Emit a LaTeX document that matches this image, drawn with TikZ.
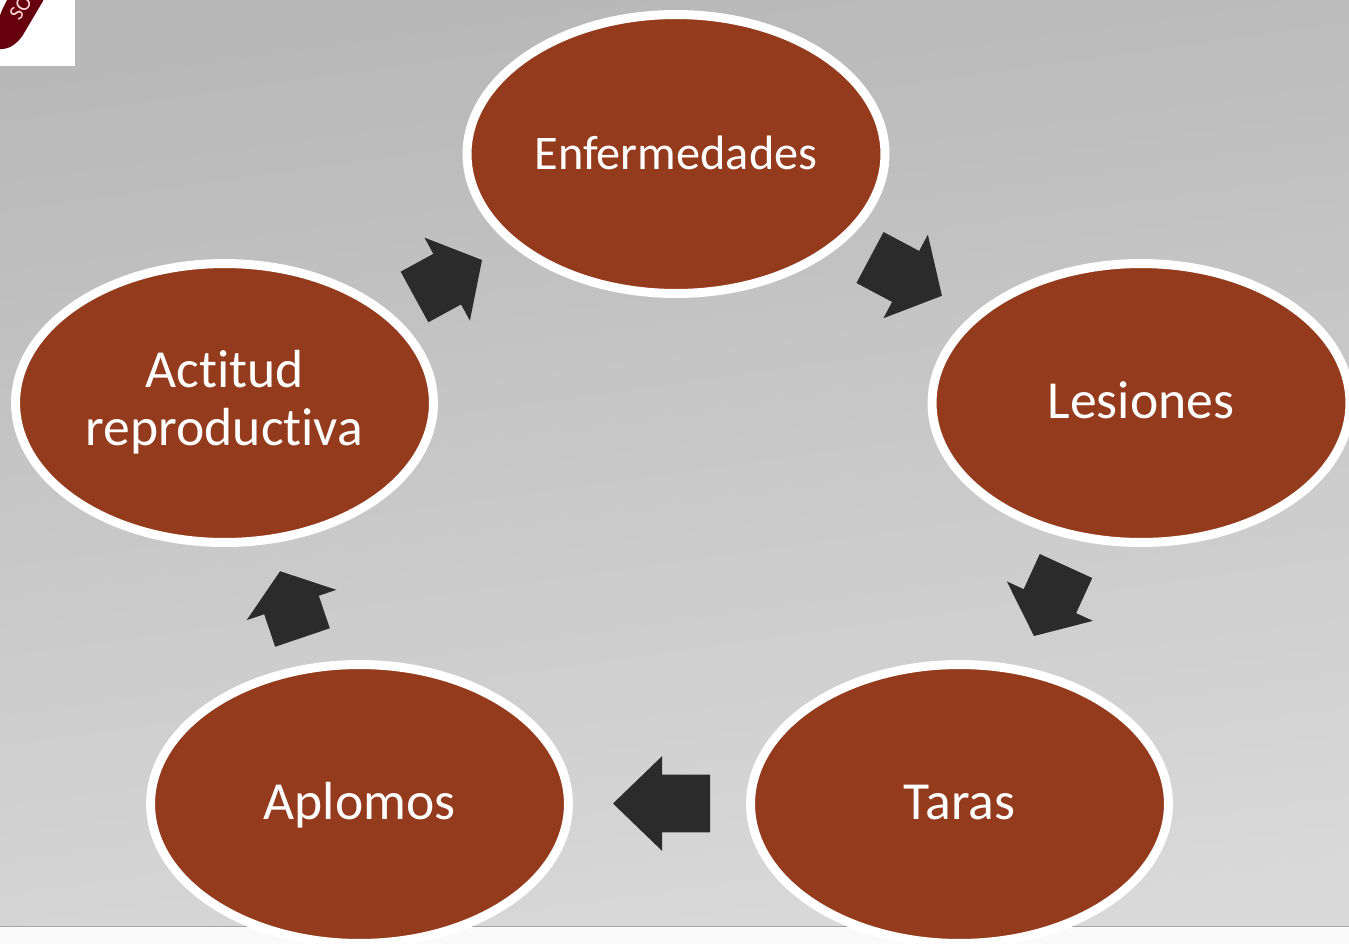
\documentclass[tikz,border=0pt]{standalone}
\usepackage{fontspec}
\setmainfont{Carlito}[Ligatures=CommonOff]
\usetikzlibrary{shapes.geometric, shapes.arrows}
\definecolor{brickfill}{HTML}{953B1D}
\definecolor{arrowdark}{HTML}{2B2B2B}
\definecolor{tagred}{HTML}{66000C}
\tikzset{
    topicnode/.style={draw=white, fill=brickfill, line width=0.18cm, ellipse, outer sep=0pt, inner sep=0pt,
        minimum width=8.36cm, minimum height=5.58cm, text=white, align=center,
        text height=0.8cm, text depth=0.2cm,
        font=\fontsize{30.5}{33}\selectfont},
    blockarrow/.style={single arrow, fill=arrowdark, draw=none, anchor=tail, inner sep=0pt, outer sep=0pt,
        text height=1.14cm, text depth=0pt, text width=0pt,
        minimum width=1.88cm, single arrow head extend=0.37cm}
}
\begin{document}
\begin{tikzpicture}[x=0.02cm, y=-0.02cm]
    \clip (0,0) rectangle (1349,944);

    % 背景の描画
    \fill[white!98!black] (0,0) rectangle (1349,944);
    \shade[top color=black!28, bottom color=black!15, shading angle=8] (0,0) rectangle (1349,926);
    \draw[black!35, line width=0.02cm] (0,926) -- (1349,926);

    % 左上の札
    \fill[white] (0,0) rectangle (75,66);
    \fill[tagred, rounded corners=0.12cm] (0,14) -- (9,-4) -- (46,-4) -- (20,40) -- (8,49) -- (-6,49) -- cycle;
    \node (tag) [rotate=55, text=white!85!red, font=\fontsize{12}{14}\selectfont] at (20.5,7.5) {SO};

    % 円の描画
    \node (enfermedades) [topicnode, font=\fontsize{27.5}{33}\selectfont] at (676,154) {Enfermedades};
    \node (lesiones) [topicnode] at (1141,403) {Lesiones};
    \node (taras) [topicnode] at (959.5,804) {Taras};
    \node (aplomos) [topicnode] at (359.5,804) {Aplomos};
    \node (actitud) [topicnode, text height=1.9cm, text depth=0.22cm] at (224.5,403) {Actitud\\reproductiva};

    % 矢印の描画
    \node (arrowa) [blockarrow, rotate=-28, minimum height=1.63cm, single arrow tip angle=98] at (870,257.5) {};
    \node (arrowb) [blockarrow, rotate=-114.6, minimum height=1.54cm, single arrow tip angle=102] at (1066,566) {};
    \node (arrowc) [blockarrow, rotate=180, minimum height=1.94cm, single arrow tip angle=88] at (710,803.5) {};
    \node (arrowd) [blockarrow, rotate=108.7, minimum height=1.40cm, single arrow tip angle=106] at (302.5,637.5) {};
    \node (arrowe) [blockarrow, rotate=28.7, minimum height=1.54cm, single arrow tip angle=100] at (414.5,297) {};
\end{tikzpicture}
\end{document}
